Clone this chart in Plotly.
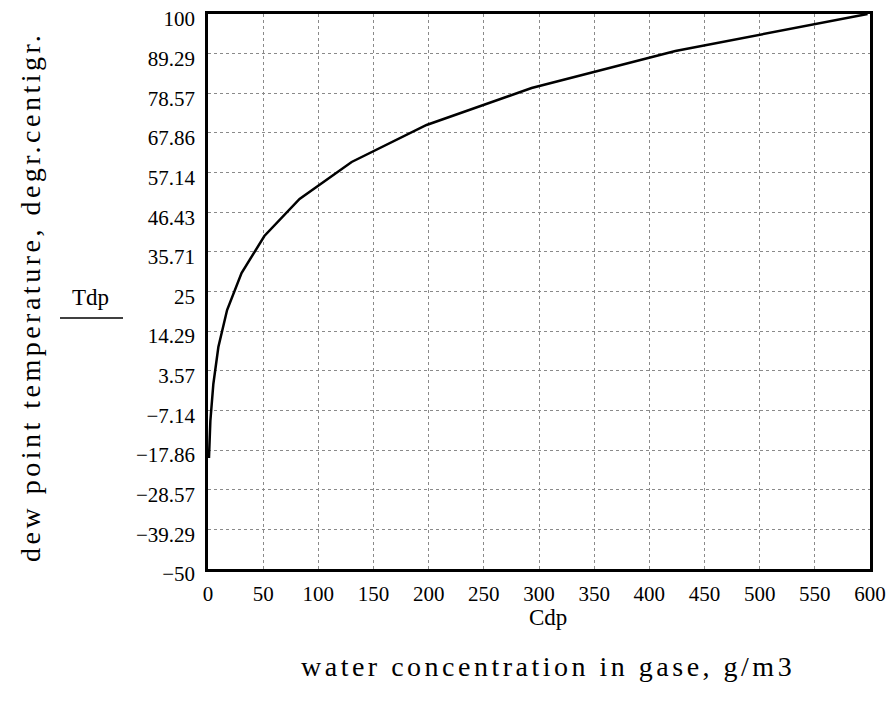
import plotly.graph_objects as go

# Data (water concentration g/m3 vs dew point temperature)
cdp = [0.88, 2.14, 4.85, 9.4, 17.3, 30.4, 51.1, 83.0, 130.2, 198.1, 293.3, 423.6, 597.8]
tdp = [-20, -10, 0, 10, 20, 30, 40, 50, 60, 70, 80, 90, 100]

x_ticks = [0, 50, 100, 150, 200, 250, 300, 350, 400, 450, 500, 550, 600]
y_tickvals = [-50 + i * 150 / 14 for i in range(15)]
y_ticktext = ["\u221250", "\u221239.29", "\u221228.57", "\u221217.86", "\u22127.14", "3.57", "14.29",
              "25", "35.71", "46.43", "57.14", "67.86", "78.57", "89.29", "100"]

FONT = "Liberation Serif"
OFF = 8  # default page body margin
W, H = 895 - 2 * OFF, 715 - 2 * OFF
L, R, T, B = 208 - OFF, 870 - OFF, 14 - OFF, 569 - OFF

def px(x):
    return (x - OFF - L) / (R - L)

def py(y):
    return (B - (y - OFF)) / (B - T)

def spaced(s, sp):
    return '<span style="letter-spacing:%spx">%s</span>' % (sp, s)

fig = go.Figure()
fig.add_trace(go.Scatter(x=cdp, y=tdp, mode="lines",
                         line=dict(color="black", width=2.5), showlegend=False))

fig.update_layout(
    width=W, height=H,
    margin=dict(l=L, r=W - R, t=T, b=H - B, autoexpand=False),
    paper_bgcolor="white", plot_bgcolor="white",
    font=dict(family=FONT, color="black", size=21),
    xaxis=dict(range=[0, 600], tickvals=x_ticks, ticktext=[str(v) for v in x_ticks],
               showgrid=True, gridcolor="#8a8a8a", griddash="dot", gridwidth=1,
               zeroline=False, showline=True, linecolor="black", linewidth=2.5, mirror=True,
               ticks="outside", ticklen=4, tickcolor="rgba(0,0,0,0)", automargin=False,
               ticklabeloverflow="allow",
               tickfont=dict(size=21, family=FONT, color="black")),
    yaxis=dict(range=[-50, 100], tickvals=y_tickvals, ticktext=y_ticktext,
               showgrid=True, gridcolor="#8a8a8a", griddash="dot", gridwidth=1,
               zeroline=False, showline=True, linecolor="black", linewidth=2.5, mirror=True,
               ticks="outside", ticklen=6, tickcolor="rgba(0,0,0,0)", automargin=False,
               ticklabeloverflow="allow", ticklabelshift=5,
               tickfont=dict(size=21, family=FONT, color="black")),
    annotations=[
        dict(text=spaced("dew point temperature, degr.centigr.", 3.5), x=px(30), y=py(297),
             xref="paper", yref="paper", showarrow=False, textangle=-90,
             font=dict(size=28, family=FONT), xanchor="center", yanchor="middle"),
        dict(text="Tdp", x=px(90), y=py(297), xref="paper", yref="paper",
             showarrow=False, font=dict(size=23, family=FONT),
             xanchor="center", yanchor="middle"),
        dict(text="Cdp", x=px(548), y=py(617), xref="paper", yref="paper",
             showarrow=False, font=dict(size=23, family=FONT),
             xanchor="center", yanchor="middle"),
        dict(text=spaced("water concentration in gase, g/m3", 3.5), x=px(548), y=py(666),
             xref="paper", yref="paper", showarrow=False, font=dict(size=28, family=FONT),
             xanchor="center", yanchor="middle"),
    ],
    shapes=[
        dict(type="line", xref="paper", yref="paper", x0=px(60), x1=px(123),
             y0=py(318), y1=py(318), line=dict(color="black", width=1.5)),
    ],
)

fig.write_html("out.html")
